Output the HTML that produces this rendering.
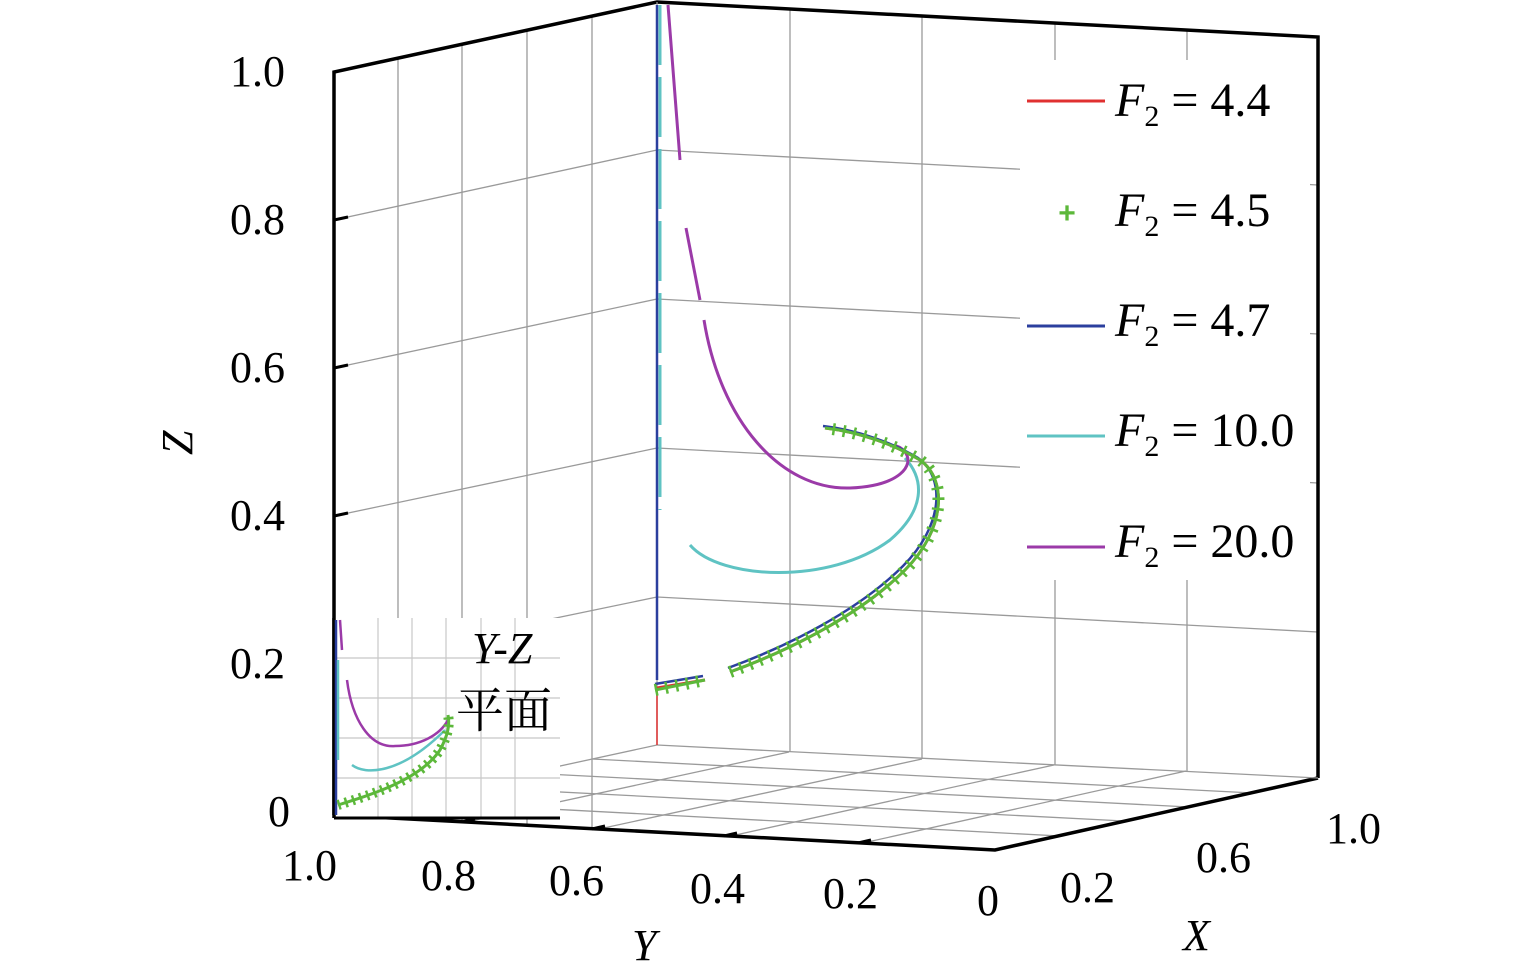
<!DOCTYPE html>
<html><head><style>body{margin:0;background:#fff}svg{display:block}</style></head><body>
<svg width="1535" height="980" viewBox="0 0 1535 980" xmlns="http://www.w3.org/2000/svg" font-family="Liberation Serif, serif">
<rect width="1535" height="980" fill="#fff"/>
<g stroke="#9a9a9a" stroke-width="1.3" fill="none">
<line x1="334" y1="220" x2="657" y2="150"/><line x1="334" y1="368" x2="657" y2="299"/>
<line x1="334" y1="516" x2="657" y2="448"/><line x1="334" y1="664" x2="657" y2="597"/>
<line x1="398" y1="58" x2="398" y2="818"/><line x1="462" y1="44" x2="462" y2="822"/>
<line x1="527" y1="30" x2="527" y2="825"/><line x1="592" y1="16" x2="592" y2="830"/>
<line x1="657" y1="150" x2="1318" y2="185"/><line x1="657" y1="299" x2="1318" y2="334"/>
<line x1="657" y1="448" x2="1318" y2="483"/><line x1="657" y1="597" x2="1318" y2="632"/>
<line x1="790" y1="9" x2="790" y2="752"/><line x1="922" y1="16" x2="922" y2="759"/>
<line x1="1055" y1="23" x2="1055" y2="765"/><line x1="1187" y1="30" x2="1187" y2="771"/>
<line x1="592" y1="759" x2="1253" y2="793"/><line x1="527" y1="773" x2="1189" y2="807"/>
<line x1="463" y1="787" x2="1124" y2="821"/><line x1="398" y1="801" x2="1060" y2="836"/>
<line x1="789" y1="752" x2="466" y2="822"/><line x1="922" y1="759" x2="599" y2="829"/>
<line x1="1054" y1="765" x2="731" y2="836"/><line x1="1186" y1="771" x2="863" y2="843"/>
</g>
<g stroke="#000" stroke-width="3.5" fill="none">
<polyline points="334,815 334,72 657,2 1318,37 1318,778"/>
<polyline points="334,815 995,850 1318,778"/>
</g>
<line x1="657" y1="2" x2="657" y2="745" stroke="#9a9a9a" stroke-width="1.3"/>
<line x1="657" y1="745" x2="1318" y2="778" stroke="#9a9a9a" stroke-width="1.3"/>
<line x1="657" y1="745" x2="334" y2="815" stroke="#9a9a9a" stroke-width="1.3"/>
<g stroke="#000" stroke-width="3">
<line x1="334" y1="220" x2="348" y2="217"/><line x1="334" y1="368" x2="348" y2="365"/>
<line x1="334" y1="516" x2="348" y2="513"/><line x1="334" y1="664" x2="348" y2="661"/>
<line x1="462" y1="822" x2="475" y2="819"/><line x1="592" y1="829" x2="605" y2="826"/>
<line x1="724" y1="836" x2="737" y2="833"/><line x1="858" y1="843" x2="871" y2="840"/>
</g>
<line x1="657" y1="5" x2="657" y2="680" stroke="#2b3f9e" stroke-width="2.5"/>
<line x1="657" y1="690" x2="657" y2="745" stroke="#e03030" stroke-width="1.5"/>
<path d="M660,5 L660,510" stroke="#5fc3c3" stroke-width="3" fill="none" stroke-dasharray="60 12"/>
<path d="M690,545 C720,580 830,585 890,540 C925,510 925,480 905,458" stroke="#5fc3c3" stroke-width="3" fill="none"/>
<path d="M668,5 L680,160 M686,228 L700,300 M704,320 C720,420 780,490 850,488 C900,486 915,465 905,452 C900,446 895,445 890,446" stroke="#9b3aa8" stroke-width="3" fill="none"/>
<path d="M657,688 L705,680 M730,672 C790,650 860,615 905,570 C945,530 948,480 920,460 C895,445 860,432 825,428" stroke="#e03030" stroke-width="3" fill="none"/>
<path d="M657,686 L705,678 M730,670 C790,648 860,613 905,568 C945,528 948,480 920,460 C895,445 860,432 825,428" stroke="#2b3f9e" stroke-width="2.5" fill="none" transform="translate(-2,-2)"/>
<path d="M655,690 L705,680 M730,672 C790,650 860,615 905,570 C945,530 948,480 920,460 C895,445 860,432 825,428" stroke="#5cb83a" stroke-width="12" fill="none" stroke-dasharray="2.5 8"/>
<path d="M655,690 L705,680 M730,672 C790,650 860,615 905,570 C945,530 948,480 920,460 C895,445 860,432 825,428" stroke="#5cb83a" stroke-width="3" fill="none"/>
<rect x="334" y="618" width="226" height="200" fill="#fff"/>
<g stroke="#c8c8c8" stroke-width="1.2">
<line x1="378" y1="618" x2="378" y2="818"/><line x1="412" y1="618" x2="412" y2="818"/>
<line x1="446" y1="618" x2="446" y2="818"/><line x1="481" y1="618" x2="481" y2="818"/>
<line x1="515" y1="618" x2="515" y2="818"/>
<line x1="334" y1="658" x2="560" y2="658"/><line x1="334" y1="698" x2="560" y2="698"/>
<line x1="334" y1="738" x2="560" y2="738"/><line x1="334" y1="778" x2="560" y2="778"/>
</g>
<line x1="334" y1="618" x2="334" y2="818" stroke="#000" stroke-width="3.5"/>
<line x1="334" y1="818" x2="560" y2="818" stroke="#000" stroke-width="3"/>
<line x1="336" y1="620" x2="336" y2="815" stroke="#2b3f9e" stroke-width="2.5"/>
<path d="M340,620 L342,650 M347,680 C352,720 370,748 395,746 C420,746 440,735 448,720" stroke="#9b3aa8" stroke-width="2.5" fill="none"/>
<path d="M338,660 L338,760 M352,765 C365,775 400,775 445,730" stroke="#5fc3c3" stroke-width="2.5" fill="none"/>
<path d="M338,805 C370,795 420,780 440,750 C448,735 450,725 448,715" stroke="#5cb83a" stroke-width="10" fill="none" stroke-dasharray="2.5 5"/>
<path d="M338,805 C370,795 420,780 440,750 C448,735 450,725 448,715" stroke="#5cb83a" stroke-width="3" fill="none"/>
<text x="472" y="663" font-size="44" font-style="italic">Y-Z</text>
<text x="456" y="727" font-size="48" font-family="Liberation Serif, Noto Serif CJK SC, serif">平面</text>
<rect x="1020" y="60" width="290" height="520" fill="#fff"/>
<g font-size="48">
<line x1="1027" y1="101" x2="1105" y2="101" stroke="#e03030" stroke-width="3"/>
<text x="1115" y="116"><tspan font-style="italic">F</tspan><tspan font-size="30" dy="10">2</tspan><tspan dy="-10"> = 4.4</tspan></text>
<text x="1067" y="223" font-size="30" fill="#5cb83a" text-anchor="middle" font-family="Liberation Sans, sans-serif" font-weight="bold">+</text>
<text x="1115" y="226"><tspan font-style="italic">F</tspan><tspan font-size="30" dy="10">2</tspan><tspan dy="-10"> = 4.5</tspan></text>
<line x1="1027" y1="326" x2="1105" y2="326" stroke="#2b3f9e" stroke-width="3"/>
<text x="1115" y="336"><tspan font-style="italic">F</tspan><tspan font-size="30" dy="10">2</tspan><tspan dy="-10"> = 4.7</tspan></text>
<line x1="1027" y1="436" x2="1105" y2="436" stroke="#5fc3c3" stroke-width="3"/>
<text x="1115" y="446"><tspan font-style="italic">F</tspan><tspan font-size="30" dy="10">2</tspan><tspan dy="-10"> = 10.0</tspan></text>
<line x1="1027" y1="547" x2="1105" y2="547" stroke="#9b3aa8" stroke-width="3"/>
<text x="1115" y="557"><tspan font-style="italic">F</tspan><tspan font-size="30" dy="10">2</tspan><tspan dy="-10"> = 20.0</tspan></text>
</g>
<g font-size="44">
<text x="230" y="86">1.0</text><text x="230" y="234">0.8</text><text x="230" y="382">0.6</text>
<text x="230" y="530">0.4</text><text x="230" y="678">0.2</text><text x="268" y="826">0</text>
<text x="282" y="880">1.0</text><text x="421" y="890">0.8</text><text x="549" y="895">0.6</text>
<text x="690" y="903">0.4</text><text x="823" y="908">0.2</text><text x="977" y="915">0</text>
<text x="1060" y="902">0.2</text><text x="1196" y="872">0.6</text><text x="1326" y="843">1.0</text>
<text font-style="italic" transform="translate(192,455) rotate(-90)">Z</text>
<text x="632" y="960" font-style="italic">Y</text>
<text x="1183" y="950" font-style="italic">X</text>
</g>
</svg>
</body></html>
